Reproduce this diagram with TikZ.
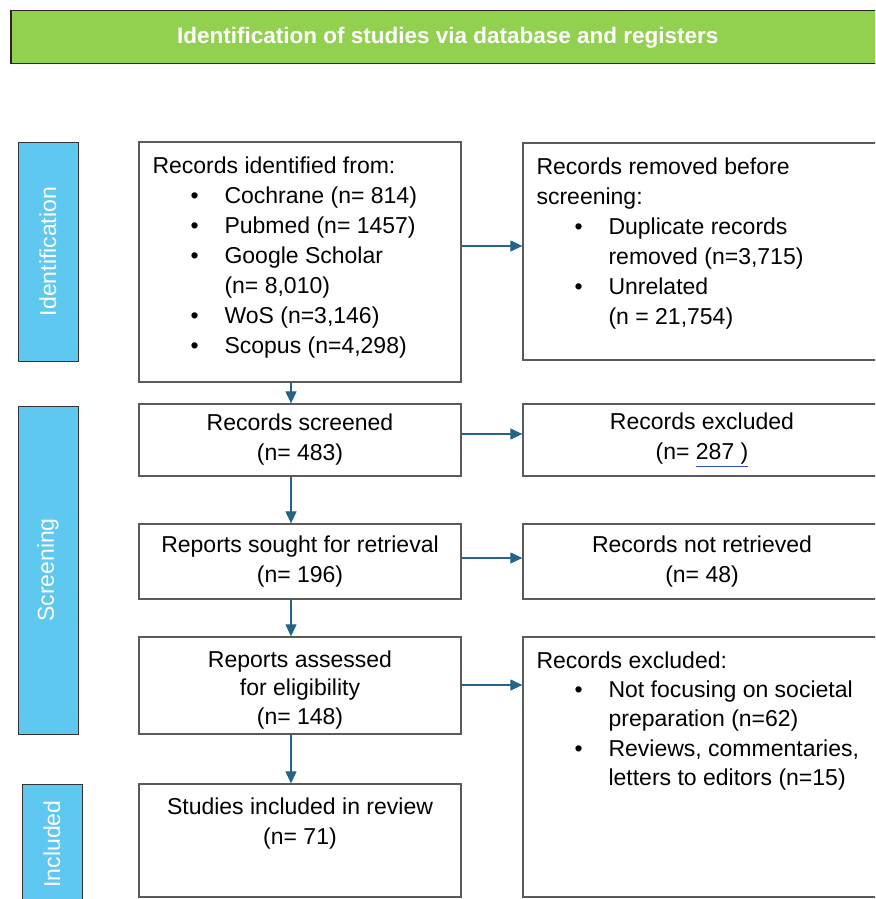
\documentclass[tikz,border=0pt]{standalone}
\usepackage{fontspec}
\setmainfont{Liberation Sans}
\usetikzlibrary{arrows.meta}

\definecolor{headgreen}{RGB}{146,208,80}
\definecolor{sideblue}{RGB}{94,200,240}
\definecolor{flowblue}{RGB}{38,100,135}
\definecolor{boxgray}{RGB}{90,90,90}
\definecolor{linkblue}{RGB}{40,80,200}

\newcommand{\bul}{\hspace*{38pt}\makebox[34pt][l]{\textbullet}}
\newcommand{\ind}{\hspace*{72pt}}

\tikzset{
  box/.style={draw=boxgray, line width=1.3pt, fill=white, inner sep=0pt, align=center, font=\fontsize{23}{30}\selectfont},
  sidebox/.style={draw=black!80, line width=1pt, fill=sideblue, text=white, rotate=90, inner sep=0pt, font=\fontsize{23}{28}\selectfont},
  headbox/.style={draw=black!85, line width=1.5pt, fill=headgreen, text=white, inner sep=0pt, font=\fontsize{22.5}{27}\selectfont\bfseries},
  txt/.style={align=left, inner sep=0pt, font=\fontsize{23}{30}\selectfont},
  flow/.style={draw=flowblue, line width=1.2pt, -{Triangle[length=12pt,width=11pt]}}
}

\begin{document}
\begin{tikzpicture}[x=1pt,y=1pt,yscale=-1]
\useasboundingbox (0,0) rectangle (875,899);
\clip (0,0) rectangle (875,899);

% Header
\node[headbox, minimum width=874, minimum height=53, anchor=north west] (head) at (10,10) {Identification of studies via database and registers};

% Side labels
\node[sidebox, minimum width=219, minimum height=60] (sideid) at (48,251.5) {Identification};
\node[sidebox, minimum width=328, minimum height=60] (sidescr) at (48,570) {Screening};
\node[sidebox, minimum width=120, minimum height=60] (sideinc) at (52,844) {Included};

% Left column
\node[box, minimum width=322, minimum height=240] (idbox) at (300,262) {};
\node[txt, anchor=north west] (idtxt) at ([xshift=14pt,yshift=15pt]idbox.north west)
  {Records identified from:\\
   \bul Cochrane (n= 814)\\
   \bul Pubmed (n= 1457)\\
   \bul Google Scholar\\
   \ind (n= 8,010)\\
   \bul WoS (n=3,146)\\
   \bul Scopus (n=4,298)};
\node[box, minimum width=322, minimum height=72] (screen) at (300,440) {Records screened\\(n= 483)};
\node[box, minimum width=322, minimum height=75] (sought) at (300,561.5) {Reports sought for retrieval\\(n= 196)};
\node[box, minimum width=322, minimum height=97] (assess) at (300,685.5) {};
\node[txt, align=center, anchor=north, font=\fontsize{23}{28.5}\selectfont] (assesstxt) at ([yshift=14pt]assess.north) {Reports assessed\\for eligibility\\(n= 148)};
\node[box, minimum width=322, minimum height=113] (incl) at (300,840.5) {};
\node[txt, align=center, anchor=north] (incltxt) at ([yshift=14pt]incl.north) {Studies included in review\\(n= 71)};

% Right column
\node[box, minimum width=358, minimum height=217] (removed) at (702,251.5) {};
\node[txt, anchor=north west] (removedtxt) at ([xshift=14pt,yshift=15pt]removed.north west)
  {Records removed before\\
   screening:\\
   \bul Duplicate records\\
   \ind removed (n=3,715)\\
   \bul Unrelated\\
   \ind (n = 21,754)};
\node[box, minimum width=358, minimum height=72] (excl) at (702,440) {Records excluded\\(n= {\color{linkblue}\underline{\color{black}287 )}}};
\node[box, minimum width=358, minimum height=75] (notret) at (702,561.5) {Records not retrieved\\(n= 48)};
\node[box, minimum width=358, minimum height=260] (exclelig) at (702,767) {};
\node[txt, anchor=north west, font=\fontsize{23}{29.3}\selectfont] (excleligtxt) at ([xshift=14pt,yshift=15pt]exclelig.north west)
  {Records excluded:\\
   \bul Not focusing on societal\\
   \ind preparation (n=62)\\
   \bul Reviews, commentaries,\\
   \ind letters to editors (n=15)};

% Straight Lines
\draw[flow] ([xshift=-9pt]idbox.south) -- ([xshift=-9pt]screen.north);
\draw[flow] ([xshift=-9pt]screen.south) -- ([xshift=-9pt]sought.north);
\draw[flow] ([xshift=-9pt]sought.south) -- ([xshift=-9pt]assess.north);
\draw[flow] ([xshift=-9pt]assess.south) -- ([xshift=-9pt]incl.north);

\coordinate (a1) at ([yshift=-16pt]idbox.east);
\coordinate (a2) at ([yshift=-6pt]screen.east);
\coordinate (a3) at ([yshift=-3.5pt]sought.east);
\coordinate (a4) at ([yshift=-0.5pt]assess.east);
\draw[flow] (a1) -- (a1 -| removed.west);
\draw[flow] (a2) -- (a2 -| excl.west);
\draw[flow] (a3) -- (a3 -| notret.west);
\draw[flow] (a4) -- (a4 -| exclelig.west);

\end{tikzpicture}
\end{document}
